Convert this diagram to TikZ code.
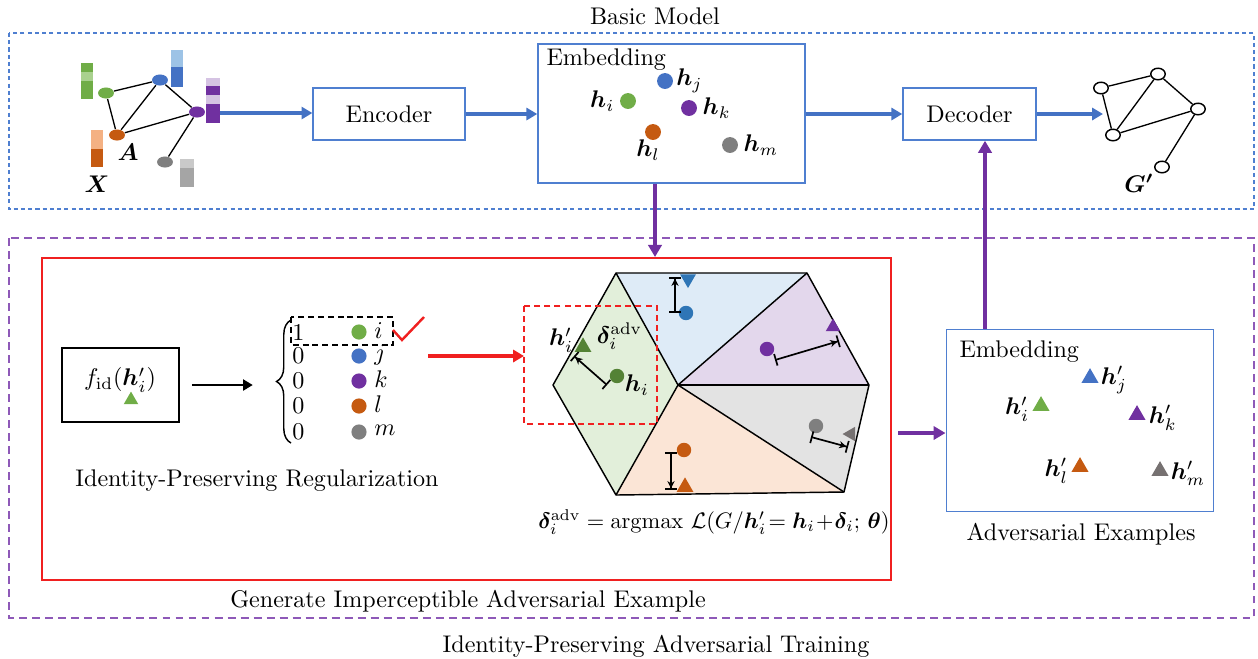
\documentclass[tikz,border=0pt]{standalone}
\usepackage{amsmath,amssymb,bm}
\usetikzlibrary{arrows.meta,shapes.geometric,calc,decorations.pathreplacing}
\definecolor{cgreen}{HTML}{70AD47}
\definecolor{cdgreen}{HTML}{548235}
\definecolor{lgreen}{HTML}{A9D18E}
\definecolor{cblue}{HTML}{4472C4}
\definecolor{hblue}{HTML}{2E75B6}
\definecolor{lblue}{HTML}{9DC3E6}
\definecolor{cpurple}{HTML}{7030A0}
\definecolor{lpurple}{HTML}{D5C3E3}
\definecolor{corange}{HTML}{C55A11}
\definecolor{lorange}{HTML}{F4B183}
\definecolor{cgray}{HTML}{7F7F7F}
\definecolor{lgray}{HTML}{C9C9C9}
\definecolor{mgray}{HTML}{A5A5A5}
\definecolor{tgray}{HTML}{767171}
\definecolor{frameblue}{HTML}{4F7FD0}
\definecolor{framepurple}{HTML}{8E59B8}
\definecolor{fillgreen}{HTML}{E2EFDA}
\definecolor{fillblue}{HTML}{DEEBF7}
\definecolor{fillpurple}{HTML}{E3D7EC}
\definecolor{fillgray}{HTML}{E3E3E3}
\definecolor{fillorange}{HTML}{FBE5D6}
\definecolor{cred}{HTML}{F02020}
\begin{document}
\begin{tikzpicture}[x=0.415pt,y=-0.415pt,
  bluebox/.style={draw=frameblue,line width=0.6pt,inner sep=0},
  barrow/.style={draw=cblue,line width=1.5pt,-{Triangle[length=4.5pt,width=5pt]}},
  parrow/.style={draw=cpurple,line width=1.5pt,-{Triangle[length=5pt,width=5.5pt]}},
  gnode/.style={ellipse,inner sep=0,minimum width=6.6pt,minimum height=4.6pt},
  onode/.style={ellipse,draw=black,fill=white,line width=0.6pt,inner sep=0,minimum width=6pt,minimum height=4.8pt},
  dot/.style={circle,inner sep=0,minimum size=6.6pt},
  tri/.style={regular polygon,regular polygon sides=3,inner sep=0,minimum size=8.2pt},
  gedge/.style={line width=0.55pt},
  darr/.style={line width=0.7pt,{Bar[width=5pt]}-{Stealth[length=3pt,width=3pt]Bar[width=5pt]}},
  lab/.style={inner sep=1pt}]
\useasboundingbox (0,0) rectangle (1258,658);

% frames
\node (bmtitle) at (655,16) {Basic Model};
\draw[frameblue,line width=0.6pt,dash pattern=on 1.7pt off 1.3pt] (9,33) rectangle (1254,209);
\draw[framepurple,line width=0.6pt,dash pattern=on 3.3pt off 2.1pt] (9,238) rectangle (1254,618);
\node (iptitle) at (656,646) {Identity-Preserving Adversarial Training};
\draw[cred,line width=0.6pt] (42,258) rectangle (891,580);
\node (gentitle) at (468,601) {Generate Imperceptible Adversarial Example};

% input graph feature bars
\fill[cgreen] (81,63) rectangle (93,72);
\fill[lgreen] (81,72) rectangle (93,81);
\fill[cgreen] (81,81) rectangle (93,99);
\fill[lblue] (171,50) rectangle (183,67);
\fill[cblue] (171,67) rectangle (183,87);
\fill[lpurple] (206,78) rectangle (220,86);
\fill[cpurple] (206,86) rectangle (220,95);
\fill[lpurple] (206,95) rectangle (220,104);
\fill[cpurple] (206,104) rectangle (220,123);
\fill[lorange] (91,130) rectangle (103,149);
\fill[corange] (91,149) rectangle (103,167);
\fill[lgray] (180,159) rectangle (194,168);
\fill[mgray] (180,168) rectangle (194,187);

% input graph
\node[gnode,fill=cgreen] (ng) at (106,93) {};
\node[gnode,fill=cblue] (nb) at (160,80) {};
\node[gnode,fill=cpurple] (np) at (197,112) {};
\node[gnode,fill=corange] (no) at (117,135) {};
\node[gnode,fill=cgray] (ny) at (165,162) {};
\draw[gedge] (ng) -- (nb) (ng) -- (no) (nb) -- (no) (nb) -- (np) (no) -- (np) (np) -- (ny);
\node (lA) at (128,152) {$\bm{A}$};
\node (lX) at (97,184) {$\bm{X}$};

% encoder / embedding / decoder
\node[bluebox,minimum width=63pt,minimum height=21.6pt] (enc) at (389,114) {Encoder};
\node[bluebox,minimum width=110.8pt,minimum height=57.7pt] (emb) at (671.5,113.5) {};
\node[anchor=west] (embt) at (538,60) {Embedding};
\node[bluebox,minimum width=55.2pt,minimum height=21.6pt] (dec) at (969.5,114) {Decoder};

\node[dot,fill=cblue] (ej) at (665,81) {};
\node[lab,anchor=west] (lj) at (ej.east) {$\bm{h}_j$};
\node[dot,fill=cgreen] (ei) at (628,101) {};
\node[lab,anchor=east] (li) at ([xshift=-1pt]ei.west) {$\bm{h}_i$};
\node[dot,fill=cpurple] (ek) at (689,108) {};
\node[lab,anchor=west] (lk) at ([xshift=1pt]ek.east) {$\bm{h}_k$};
\node[dot,fill=corange] (el) at (653,132) {};
\node[lab] (ll) at (648,150) {$\bm{h}_l$};
\node[dot,fill=cgray] (em) at (730,145) {};
\node[lab,anchor=west] (lm) at ([xshift=1pt]em.east) {$\bm{h}_m$};

% output graph
\node[onode] (o1) at (1101,88) {};
\node[onode] (o2) at (1158,74) {};
\node[onode] (o3) at (1198,109) {};
\node[onode] (o4) at (1113,135) {};
\node[onode] (o5) at (1162,167) {};
\draw[gedge] (o1) -- (o2) (o1) -- (o4) (o2) -- (o4) (o2) -- (o3) (o4) -- (o3) (o3) -- (o5);
\node (lG) at (1139,183) {$\bm{G'}$};

% blue arrows
\coordinate (gout) at (220,113);
\draw[barrow] (gout) -- (gout -| enc.west);
\draw[barrow] (enc.east) -- (enc.east -| emb.west);
\draw[barrow] (emb.east |- dec.west) -- (dec.west);
\coordinate (gin) at (1103,114);
\draw[barrow] (dec.east) -- (gin);

% identity preserving regularization
\node[draw,line width=0.6pt,minimum width=48.6pt,minimum height=30.7pt] (fid) at (120.5,385) {};
\node (fidt) at (120,380) {$f_{\mathrm{id}}(\bm{h}'_i)$};
\node[tri,fill=cgreen,minimum size=7pt] (fidtri) at (131,400) {};
\node (iprt) at (257,481) {Identity-Preserving Regularization};
\draw[line width=1pt,-{Triangle[length=4pt,width=4.5pt]}] (fid.east) ++(12,0) -- ++(61,0) coordinate (fa);

\draw[line width=0.6pt,decorate,decoration={brace,amplitude=6pt}] (291,443) -- (291,320);
\node[anchor=west,inner sep=0] (r1) at (292,332) {1};
\node[anchor=west,inner sep=0] (r2) at (292,356) {0};
\node[anchor=west,inner sep=0] (r3) at (292,381) {0};
\node[anchor=west,inner sep=0] (r4) at (292,406) {0};
\node[anchor=west,inner sep=0] (r5) at (292,432) {0};
\node[dot,fill=cgreen,minimum size=6.3pt] (d1) at (359,332) {};
\node[dot,fill=cblue,minimum size=6.3pt] (d2) at (359,356) {};
\node[dot,fill=cpurple,minimum size=6.3pt] (d3) at (359,381) {};
\node[dot,fill=corange,minimum size=6.3pt] (d4) at (359,406) {};
\node[dot,fill=cgray,minimum size=6.3pt] (d5) at (359,432) {};
\node[anchor=west,inner sep=0] (s1) at (374,331) {$i$};
\node[anchor=west,inner sep=0] (s2) at (374,355) {$j$};
\node[anchor=west,inner sep=0] (s3) at (374,379) {$k$};
\node[anchor=west,inner sep=0] (s4) at (374,404) {$l$};
\node[anchor=west,inner sep=0] (s5) at (374,430) {$m$};
\draw[line width=0.6pt,dash pattern=on 2.5pt off 1.6pt] (291,317) rectangle (393,345);
\draw[cred,line width=1pt] (393,330) -- (402,340) -- (424,317);
\coordinate (ra0) at (428,356);
\coordinate (ra1) at (524,356);
\draw[cred,line width=1.4pt,-{Triangle[length=4.5pt,width=5pt]}] (ra0) -- (ra1);

% hexagon
\coordinate (hTL) at (616,273);
\coordinate (hTR) at (807,273);
\coordinate (hR) at (869,385);
\coordinate (hBR) at (844,492);
\coordinate (hBL) at (616,495);
\coordinate (hL) at (553,385);
\coordinate (hC) at (678,385);
\fill[fillgreen] (hL) -- (hTL) -- (hC) -- (hBL) -- cycle;
\fill[fillblue] (hTL) -- (hTR) -- (hC) -- cycle;
\fill[fillpurple] (hTR) -- (hR) -- (hC) -- cycle;
\fill[fillgray] (hC) -- (hR) -- (hBR) -- cycle;
\fill[fillorange] (hC) -- (hBR) -- (hBL) -- cycle;
\draw[line width=0.6pt,line join=round] (hL) -- (hTL) -- (hTR) -- (hR) -- (hBR) -- (hBL) -- cycle;
\draw[line width=0.6pt] (hTL) -- (hC) -- (hBL);
\draw[line width=0.6pt] (hTR) -- (hC) -- (hBR);
\draw[line width=0.9pt] (hC) -- (hR);

\draw[cred,line width=0.6pt,dash pattern=on 2.5pt off 1.7pt] (524,306) rectangle (657,424);

% blue region
\node[dot,fill=hblue,minimum size=6pt] (xb) at (686,313) {};
\node[tri,fill=hblue,shape border rotate=180,minimum size=7.5pt] (tb) at (688,279) {};
\coordinate (ab0) at (675,313);
\coordinate (ab1) at (675,277);
\draw[darr] (ab0) -- (ab1);
% green region
\node[dot,fill=cdgreen,minimum size=6pt] (xg) at (617,376) {};
\node[tri,fill=cdgreen,minimum size=8pt] (tg) at (583,347) {};
\coordinate (ag0) at (607,385);
\coordinate (ag1) at (574,356);
\draw[darr] (ag0) -- (ag1);
\node[lab,anchor=east] (lhpi) at (576,340) {$\bm{h}'_i$};
\node[lab,anchor=west] (ldel) at (594,336) {$\bm{\delta}_i^{\mathrm{adv}}$};
\node[lab,anchor=west] (lhi) at (622,385) {$\bm{h}_i$};
% purple region
\node[dot,fill=cpurple,minimum size=6pt] (xp) at (767,349) {};
\node[tri,fill=cpurple,minimum size=7pt] (tp) at (833,327) {};
\coordinate (ap0) at (775,360);
\coordinate (ap1) at (839,341);
\draw[darr] (ap0) -- (ap1);
% gray region
\node[dot,fill=cgray,minimum size=6pt] (xy) at (816,426) {};
\node[tri,fill=tgray,shape border rotate=90,minimum size=7pt] (ty) at (851,434) {};
\coordinate (ay0) at (811,437);
\coordinate (ay1) at (848,447);
\draw[darr] (ay0) -- (ay1);
% orange region
\node[dot,fill=corange,minimum size=6pt] (xo) at (684,450) {};
\node[tri,fill=corange,minimum size=8pt] (to) at (685,487) {};
\coordinate (ao0) at (671,452);
\coordinate (ao1) at (671,490);
\draw[darr] (ao0) -- (ao1);

\node (formula) at (714,522) {\scalebox{0.93}{$\bm{\delta}_i^{\mathrm{adv}}=\mathrm{argmax}\ \mathcal{L}(G/\bm{h}'_i\!=\bm{h}_i\!+\!\bm{\delta}_i;\,\bm{\theta})$}};

% adversarial embedding
\node[bluebox,minimum width=111pt,minimum height=75.5pt] (aemb) at (1080,420.5) {};
\node[anchor=west] (aembt) at (951,352) {Embedding};
\node[tri,fill=cblue] (aj) at (1090,378) {};
\node[lab,anchor=west] (alj) at (1098,380) {$\bm{h}'_j$};
\node[tri,fill=cgreen] (ai) at (1041,406) {};
\node[lab,anchor=east] (ali) at (1032,409) {$\bm{h}'_i$};
\node[tri,fill=cpurple] (ak) at (1137,415) {};
\node[lab,anchor=west] (alk) at (1146,418) {$\bm{h}'_k$};
\node[tri,fill=corange] (al) at (1080,467) {};
\node[lab,anchor=east] (all) at (1071,471) {$\bm{h}'_l$};
\node[tri,fill=tgray] (am) at (1160,471) {};
\node[lab,anchor=west] (alm) at (1168,473) {$\bm{h}'_m$};
\node (advt) at (1081,534) {Adversarial Examples};

% purple arrows
\draw[parrow] (emb.south -| 655,0) -- (655,257) coordinate (redtop);
\draw[parrow] (aemb.north -| 985,0) -- (dec.south -| 985,0);
\coordinate (hx) at (898,433);
\draw[parrow] (hx) -- (hx -| aemb.west);
\end{tikzpicture}
\end{document}
